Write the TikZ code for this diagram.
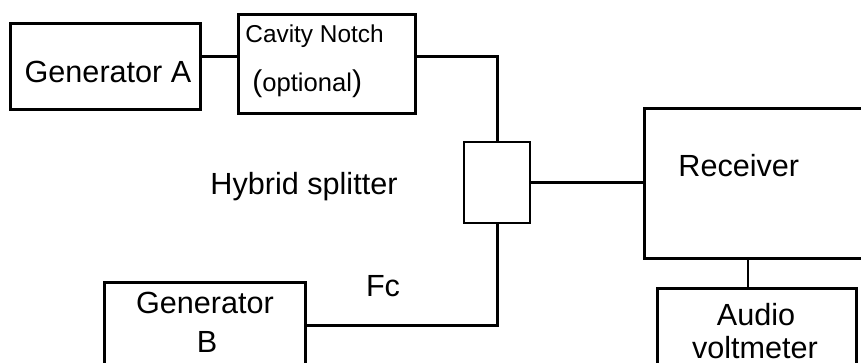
\documentclass[tikz,border=0pt]{standalone}
\usepackage{fontspec}
\setmainfont{Liberation Sans}
\usepackage{tikz}

\begin{document}
\begin{tikzpicture}[x=0.5pt,y=-0.5pt,
	blk/.style={draw,line width=1.5pt,minimum width=#1,inner sep=0pt},
	big/.style={inner sep=0pt,font=\fontsize{15.3}{18}\selectfont},
	small/.style={inner sep=0pt,font=\fontsize{12.2}{14}\selectfont},
	wire/.style={line width=1.5pt}]
	\clip (0,0) rectangle (861,363);
	% boxes
	\node[blk=95pt,minimum height=43pt] (genA) at (105,67) {};
	\node[blk=88.5pt,minimum height=49.5pt] (cav) at (326.5,64.5) {};
	\node[blk=33pt,minimum height=40.5pt,line width=1pt] (spl) at (497,182.5) {};
	\node[blk=128pt,minimum height=74.5pt] (rx) at (772,183.5) {};
	\node[blk=99.5pt,minimum height=56pt] (vm) at (756.5,344) {};
	\node[blk=100.5pt,minimum height=59pt] (genB) at (204.5,341) {};
	% texts
	\node[big,anchor=base] (tgenA) at (108,83) {Generator A};
	\node[small,anchor=base west] (tcav) at (245,43) {Cavity Notch};
	\node[small,anchor=base west,font=\fontsize{12.8}{14}\selectfont] (topt) at (252,92) {{\fontsize{15}{18}\selectfont(}optional{\fontsize{15}{18}\selectfont)}};
	\node[big,anchor=base] (tspl) at (304,195) {Hybrid splitter};
	\node[big,anchor=base west] (trx) at (678,177) {Receiver};
	\node[big,anchor=base] (tfc) at (383,296) {Fc};
	\node[big,anchor=base] (tgenB) at (205,313) {Generator};
	\node[big,anchor=base] (tgenBb) at (207,352) {B};
	\node[big,anchor=base] (tvm) at (756,325) {Audio};
	\node[big,anchor=base] (tvmb) at (755,358) {voltmeter};
	% wiring
	\draw[wire] ([yshift=5pt]genA.east) -- ([yshift=3.75pt]cav.west);
	\draw[wire] ([yshift=3.75pt]cav.east) -| (spl.north);
	\draw[wire] (spl.east) -- (spl.east -| rx.west);
	\draw[wire] (spl.south) |- ([yshift=8pt]genB.east);
	\coordinate (vmin) at ([xshift=-4.25pt]vm.north);
	\draw[line width=0.7pt] (vmin) -- (vmin |- rx.south);
\end{tikzpicture}
\end{document}
